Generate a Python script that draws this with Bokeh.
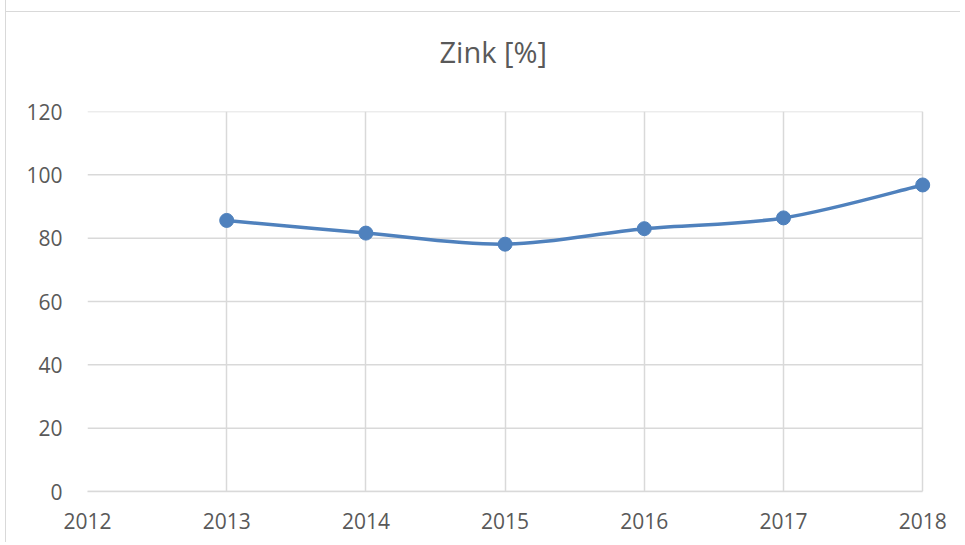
from bokeh.plotting import figure
from bokeh.models import Range1d, FixedTicker, ColumnDataSource
from bokeh.embed import file_html
from bokeh.resources import INLINE

years = [2013, 2014, 2015, 2016, 2017, 2018]
zinc = [85.6, 81.6, 78.1, 83.0, 86.4, 96.8]
x_ticks = [2012, 2013, 2014, 2015, 2016, 2017, 2018]
y_ticks = [0, 20, 40, 60, 80, 100, 120]
title_text = "Zink [%]"

FONT = "Open Sans"
TXT = "#595959"
GRID = "#d9d9d9"
BLUE = "#4f81bd"

# a little room right of 2018 so the last marker is not cut by the frame
X_PAD = 0.25

p = figure(width=955, height=554, output_backend="svg", toolbar_location=None,
           x_range=Range1d(x_ticks[0], x_ticks[-1] + X_PAD), y_range=Range1d(0, 120),
           title=title_text,
           min_border_left=81, min_border_top=123,
           min_border_right=4, min_border_bottom=51,
           styles={"border-left": "1px solid #d9d9d9",
                   "margin-left": "5px", "margin-top": "-12px",
                   "background-image": "linear-gradient(#d9d9d9, #d9d9d9)",
                   "background-repeat": "no-repeat",
                   "background-position": "0px 23px",
                   "background-size": "100% 1px"})
p.border_fill_color = None
p.title.align = "left"
p.title.offset = 352
p.title.standoff = 82
p.title.text_font = FONT
p.title.text_font_size = "29px"
p.title.text_font_style = "normal"
p.title.text_color = TXT
p.outline_line_color = None
p.background_fill_color = "white"

for ax in (p.xaxis, p.yaxis):
    ax.major_label_text_font = FONT
    ax.major_label_text_font_size = "21px"
    ax.major_label_text_color = TXT
    ax.major_tick_line_color = None
    ax.minor_tick_line_color = None

p.xaxis.ticker = FixedTicker(ticks=x_ticks)
p.yaxis.ticker = FixedTicker(ticks=y_ticks)
p.xaxis.bounds = (x_ticks[0], x_ticks[-1])
p.xaxis.axis_line_color = GRID
p.xaxis.axis_line_width = 1.5
p.yaxis.axis_line_color = None
p.xaxis.major_label_standoff = 15
p.yaxis.major_label_standoff = 19

p.xgrid.ticker = FixedTicker(ticks=x_ticks)
p.xgrid.grid_line_color = GRID
p.xgrid.grid_line_width = 1.5
p.ygrid.visible = False
# horizontal gridlines that stop at the last category
p.segment(x0=[x_ticks[0]] * len(y_ticks), x1=[x_ticks[-1]] * len(y_ticks),
          y0=y_ticks, y1=y_ticks, line_color=GRID, line_width=1.5, level="underlay")

# smooth (Catmull-Rom style, like the spreadsheet smoothing) segments
n = len(years)
x0, y0, x1, y1, cx0, cy0, cx1, cy1 = [], [], [], [], [], [], [], []
for i in range(n - 1):
    pm = i - 1 if i > 0 else i
    pp = i + 2 if i + 2 < n else i + 1
    x0.append(years[i]); y0.append(zinc[i])
    x1.append(years[i + 1]); y1.append(zinc[i + 1])
    cx0.append(years[i] + (years[i + 1] - years[pm]) / 6)
    cy0.append(zinc[i] + (zinc[i + 1] - zinc[pm]) / 6)
    cx1.append(years[i + 1] - (years[pp] - years[i]) / 6)
    cy1.append(zinc[i + 1] - (zinc[pp] - zinc[i]) / 6)

seg = ColumnDataSource(dict(x0=x0, y0=y0, x1=x1, y1=y1, cx0=cx0, cy0=cy0, cx1=cx1, cy1=cy1))
p.bezier(x0="x0", y0="y0", x1="x1", y1="y1", cx0="cx0", cy0="cy0", cx1="cx1", cy1="cy1",
         source=seg, line_color=BLUE, line_width=3.5)
p.scatter(years, zinc, size=14, fill_color=BLUE, line_color=BLUE)

open("out.html", "w").write(file_html(p, INLINE))
